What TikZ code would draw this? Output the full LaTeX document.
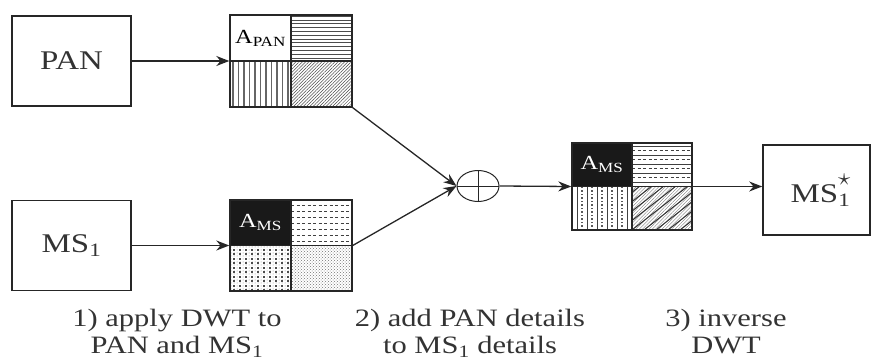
\documentclass[tikz,border=0pt]{standalone}
\usepackage{fontspec}
\setmainfont{Liberation Serif}[FakeStretch=1.22]
\usetikzlibrary{positioning,arrows.meta,matrix,patterns,patterns.meta,shapes.geometric}

\begin{document}
\begin{tikzpicture}[x=1pt,y=1pt,>={Stealth[length=13pt,width=10pt]},
	box/.style={draw=black!85, line width=1.6pt, minimum width=119pt,%
		minimum height=90pt, inner sep=0pt, text=black!80,%
		font=\fontsize{27}{30}\selectfont},
	grid/.style={matrix of nodes, line width=1.4pt,%
		inner sep=0pt, outer sep=0pt,%
		column sep=-\pgflinewidth, row sep=-\pgflinewidth,%
		nodes in empty cells,
		nodes={draw=black!85, inner sep=0pt, outer sep=0pt,%
			anchor=center, font=\fontsize{20}{22}\selectfont}},
	dark/.style={fill=black!90, text=white},
	hlines/.style={path picture={\foreach \k in {3,6.8,...,45}
			\draw[line width=.8pt,black!70] ([yshift=\k pt]path picture bounding box.south west) -- ++(70,0);}},
	vlines/.style={path picture={\foreach \k in {3,8.5,...,60}
			\draw[line width=1.3pt,black!60] ([xshift=\k pt]path picture bounding box.south west) -- ++(0,50);}},
	hatch/.style={pattern={Lines[angle=45,distance=2.3pt,line width=.45pt]}, pattern color=black!70},
	dashrows/.style={path picture={\foreach \k in {4,10,...,45}
			\draw[line width=.8pt,black!75,dash pattern=on 3pt off 2.5pt] ([yshift=\k pt]path picture bounding box.south west) -- ++(70,0);}},
	dotcols/.style={pattern=dots, pattern color=black!45, path picture={\foreach \k in {4,10,...,60}
			\draw[line width=1.3pt,black!70,dash pattern=on 2pt off 2.5pt] ([xshift=\k pt]path picture bounding box.south west) -- ++(0,50);}},
	xdots/.style={pattern=crosshatch dots, pattern color=black!55},
	mixrows/.style={path picture={\foreach \k in {4.5,13.5,...,44}
			\draw[line width=.8pt,black!75] ([yshift=\k pt]path picture bounding box.south west) -- ++(70,0);
			\foreach \k in {9,18,...,44}
			\draw[line width=.8pt,black!75,dash pattern=on 3pt off 2.5pt] ([yshift=\k pt]path picture bounding box.south west) -- ++(70,0);}},
	mixcols/.style={path picture={\foreach \k in {5,15,...,60}
			\draw[line width=1pt,black!75] ([xshift=\k pt]path picture bounding box.south west) -- ++(0,50);
			\foreach \k in {10,20,...,60}
			\draw[line width=1.3pt,black!65,dash pattern=on 1.5pt off 2pt] ([xshift=\k pt]path picture bounding box.south west) -- ++(0,50);}},
	diag/.style={pattern={Lines[angle=45,distance=2.3pt,line width=.4pt]}, pattern color=black!55,%
		path picture={\foreach \k in {-60,-48,...,60}
			\draw[line width=1pt,black!80] ([xshift=\k pt]path picture bounding box.south west) -- ++(70,55);}},
	caption/.style={align=center, inner sep=0pt, anchor=north, text=black!80,%
		font=\fontsize{25}{27}\selectfont}]
	\useasboundingbox (0,0) rectangle (872,-361);
	% input images
	\node[box] (pan) at (71.5,-61) {PAN};
	\node[box] (ms) at (71.5,-245.5) {MS\textsubscript{1}};
	% wavelet planes
	\matrix[grid, nodes={minimum width=61pt, minimum height=46pt}] (gpan) at (291,-61)
	{
		A\textsubscript{PAN} & |[hlines]| {} \\
		|[vlines]| {} & |[hatch]| {} \\
	};
	\matrix[grid, nodes={minimum width=61pt, minimum height=45.5pt}] (gms) at (291,-245.5)
	{
		|[dark]| A\textsubscript{MS} & |[dashrows]| {} \\
		|[dotcols]| {} & |[xdots]| {} \\
	};
	\matrix[grid, nodes={minimum width=60pt, minimum height=43.5pt}] (gfuse) at (632,-186.5)
	{
		|[dark]| A\textsubscript{MS} & |[mixrows]| {} \\
		|[mixcols]| {} & |[diag]| {} \\
	};
	\node[ellipse, draw=black!85, line width=1pt, minimum width=42pt,%
		minimum height=31pt, inner sep=0pt,%
		path picture={\draw[line width=1pt] (path picture bounding box.north) -- (path picture bounding box.south)
			(path picture bounding box.west) -- (path picture bounding box.east);}] (plus) at (478,-186) {};
	\node[box, minimum width=107pt] (msout) at (816.5,-190)
		{\hspace{8pt}MS\textsubscript{1}\llap{\raisebox{17pt}{\fontsize{24}{24}\selectfont$\star$}}};
	% connectors
	\begin{scope}[line width=1.3pt, draw=black!85]
		\draw[->] (pan) -- (gpan);
		\draw[->] (ms) -- (gms);
		\draw[->] (gpan.south east) -- (plus.west);
		\draw[->] (gms.east) -- (plus.west);
		\draw[->] (plus.east) -- (gfuse.west);
		\draw[->] (gfuse.east) -- (msout.west |- gfuse.east);
	\end{scope}
	% steps
	\node[caption] (step1) at (177,-309) {1) apply DWT to\\PAN and MS\textsubscript{1}};
	\node[caption] (step2) at (470,-309) {2) add PAN details\\to MS\textsubscript{1} details};
	\node[caption] (step3) at (726,-309) {3) inverse\\DWT};
\end{tikzpicture}
\end{document}
